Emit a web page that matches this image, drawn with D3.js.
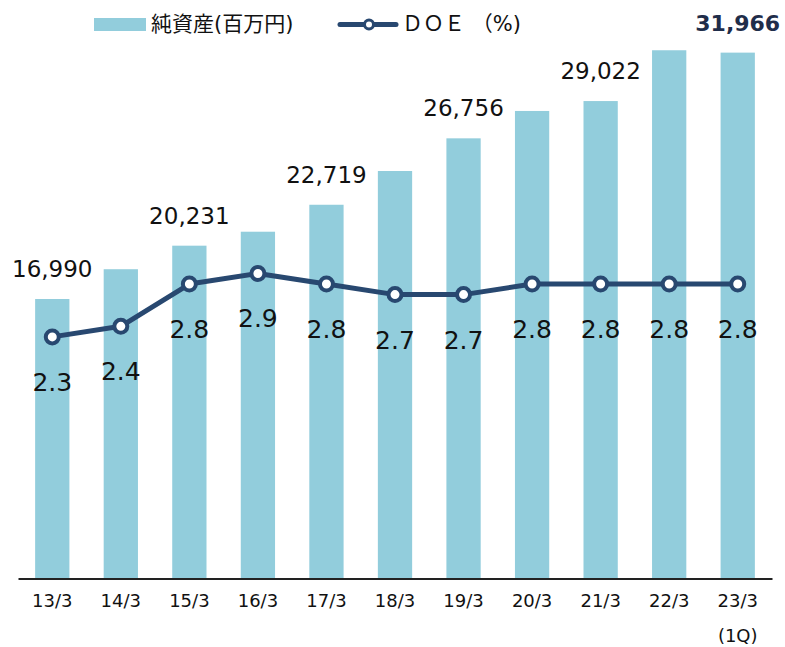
<!DOCTYPE html>
<html>
<head>
<meta charset="utf-8">
<script src="https://cdn.jsdelivr.net/npm/d3@7"></script>
<style>
  body { margin: 0; background: #fff; }
  text { font-family: Verdana, "DejaVu Sans", "Noto Sans CJK JP", sans-serif; }
</style>
</head>
<body>
<div id="chart"></div>
<script>
const categories = ["13/3", "14/3", "15/3", "16/3", "17/3", "18/3", "19/3", "20/3", "21/3", "22/3", "23/3"];
const subLabels = ["", "", "", "", "", "", "", "", "", "", "(1Q)"];
const netAssets = [16990, 18800, 20231, 21080, 22719, 24770, 26756, 28420, 29022, 32110, 31966];
const doe = [2.3, 2.4, 2.8, 2.9, 2.8, 2.7, 2.7, 2.8, 2.8, 2.8, 2.8];
const shownBarLabels = ["13/3", "15/3", "17/3", "19/3", "21/3"];
const boldBarLabel = "23/3";

const width = 785;
const height = 647;
const baseline = 578.5;

const barColor = "#92cddc";
const lineColor = "#284870";

const svg = d3.select("#chart")
  .append("svg")
  .attr("width", width)
  .attr("height", height);

const xScale = d3.scaleBand()
  .domain(categories)
  .range([18, 772])
  .paddingInner(0.5)
  .paddingOuter(0.25);

const yBar = d3.scaleLinear()
  .domain([0, 35000])
  .range([baseline, baseline - 35000 * 0.016451]);

const yDoe = d3.scaleLinear()
  .domain([0, 5.5])
  .range([580, 580 - 5.5 * 105.7]);

const cx = d => xScale(d) + xScale.bandwidth() / 2;

// bars
svg.append("g")
  .selectAll("rect")
  .data(categories)
  .enter()
  .append("rect")
  .attr("x", d => xScale(d))
  .attr("y", (d, i) => yBar(netAssets[i]))
  .attr("width", xScale.bandwidth())
  .attr("height", (d, i) => yBar(0) - yBar(netAssets[i]))
  .attr("fill", barColor);

// x axis
const xAxis = d3.axisBottom(xScale)
  .tickSize(0)
  .tickSizeOuter(0)
  .tickPadding(16);

const xAxisG = svg.append("g")
  .attr("transform", "translate(0," + baseline + ")")
  .call(xAxis);
xAxisG.select(".domain").attr("stroke", "#222").attr("stroke-width", 2);
xAxisG.selectAll(".tick text")
  .attr("font-size", 18)
  .attr("fill", "#111")
  .attr("font-family", "Verdana, 'DejaVu Sans', sans-serif");
xAxisG.selectAll(".tick")
  .append("text")
  .attr("y", 63)
  .attr("text-anchor", "middle")
  .attr("font-size", 18)
  .attr("fill", "#111")
  .text((d, i) => subLabels[i]);

// bar value labels
svg.append("g")
  .selectAll("text")
  .data(categories.filter(c => shownBarLabels.includes(c) || c === boldBarLabel))
  .enter()
  .append("text")
  .attr("x", d => cx(d))
  .attr("y", d => yBar(netAssets[categories.indexOf(d)]) - 22)
  .attr("text-anchor", "middle")
  .attr("font-size", d => d === boldBarLabel ? 22 : 23)
  .attr("font-weight", d => d === boldBarLabel ? "bold" : "normal")
  .attr("fill", d => d === boldBarLabel ? "#1f2d4a" : "#111")
  .text(d => d3.format(",")(netAssets[categories.indexOf(d)]));

// DOE line
const line = d3.line()
  .x((d, i) => cx(categories[i]))
  .y(d => yDoe(d));

svg.append("path")
  .datum(doe)
  .attr("d", line)
  .attr("fill", "none")
  .attr("stroke", lineColor)
  .attr("stroke-width", 5)
  .attr("stroke-linejoin", "round");

svg.append("g")
  .selectAll("circle")
  .data(doe)
  .enter()
  .append("circle")
  .attr("cx", (d, i) => cx(categories[i]))
  .attr("cy", d => yDoe(d))
  .attr("r", 6.5)
  .attr("fill", "#fff")
  .attr("stroke", lineColor)
  .attr("stroke-width", 4);

svg.append("g")
  .selectAll("text")
  .data(doe)
  .enter()
  .append("text")
  .attr("x", (d, i) => cx(categories[i]))
  .attr("y", d => yDoe(d) + 54)
  .attr("text-anchor", "middle")
  .attr("font-size", 25)
  .attr("fill", "#111")
  .text(d => d3.format(".1f")(d));

// legend
const legend = svg.append("g");
legend.append("rect")
  .attr("x", 94).attr("y", 18)
  .attr("width", 52).attr("height", 13)
  .attr("fill", barColor);
legend.append("text")
  .attr("x", 151).attr("y", 31)
  .attr("font-size", 21)
  .attr("fill", "#111")
  .text("純資産(百万円)");
legend.append("line")
  .attr("x1", 340).attr("x2", 396)
  .attr("y1", 24.5).attr("y2", 24.5)
  .attr("stroke", lineColor)
  .attr("stroke-width", 5)
  .attr("stroke-linecap", "round");
legend.append("circle")
  .attr("cx", 369).attr("cy", 24.5)
  .attr("r", 4.5)
  .attr("fill", "#fff")
  .attr("stroke", lineColor)
  .attr("stroke-width", 3);
legend.append("text")
  .attr("x", 402).attr("y", 31)
  .attr("font-size", 21)
  .attr("fill", "#111")
  .text("ＤＯＥ （%)");
</script>
</body>
</html>
